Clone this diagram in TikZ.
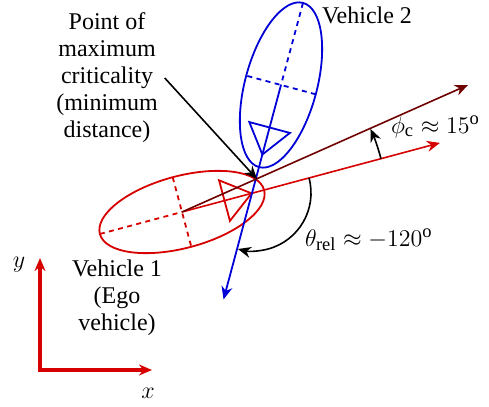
\documentclass[tikz,border=0pt]{standalone}
\usepackage{amsmath,amssymb}
\usepackage{fontspec}
\setmainfont{Liberation Serif}
\usetikzlibrary{arrows.meta}
\definecolor{egored}{RGB}{215,0,0}
\definecolor{vehblue}{RGB}{0,0,215}
\definecolor{critred}{RGB}{110,0,0}

\begin{document}
\begin{tikzpicture}[x=0.5pt,y=0.5pt,>={Stealth[length=6.5pt,width=5.5pt]},
  font=\fontsize{12}{13.5}\selectfont,
  body/.style={line width=0.9pt},
  axis/.style={dash pattern=on 2.5pt off 2.2pt,line width=0.9pt},
  anglabel/.style={anchor=west,font=\fontsize{13.2}{15}\selectfont}]
  \useasboundingbox (0,0) rectangle (489,407);
  \coordinate (E) at (182,195);
  \coordinate (V) at (281,322);
  \coordinate (P) at (257,228);
  \coordinate (I) at (253,214);
  \coordinate (Ctip) at (468,322);
  % vehicle 1 (ego)
  \begin{scope}[shift={(E)},rotate=15,egored]
    \draw[body] (0,0) ellipse (85 and 36);
    \draw[axis] (-85,0) -- (0,0) (0,36) -- (0,-36);
    \draw[body] (72,0) -- (44,21) -- (44,-21) -- cycle;
    \coordinate (Etip) at (267,0);
  \end{scope}
  \draw[->,egored,line width=0.8pt] (E) -- (Etip);
  % vehicle 2
  \begin{scope}[shift={(V)},rotate=-105,vehblue]
    \draw[body] (0,0) ellipse (85 and 36);
    \draw[axis] (-85,0) -- (0,0) (0,36) -- (0,-36);
    \draw[body] (72,0) -- (44,21) -- (44,-21) -- cycle;
    \coordinate (Vtip) at (222,0);
  \end{scope}
  \draw[->,vehblue,line width=0.9pt] (V) -- (Vtip);
  \draw[->,critred,line width=0.8pt] (E) -- (Ctip);
  % angles
  \draw[->,line width=0.8pt] (E) ++(15:206) arc[start angle=15,end angle=23.8,radius=206];
  \draw[->,line width=0.8pt] (I) ++(15:58) arc[start angle=15,end angle=-105,radius=58];
  \node[anglabel] (phi) at (384,280) {$\phi_{\mathrm{c}}\approx 15^{\mathrm{o}}$};
  \node[anglabel] (theta) at (298,167) {$\theta_{\mathrm{rel}}\approx -120^{\mathrm{o}}$};
  % labels
  \node[align=center] (crit) at (107,329) {Point of\\maximum\\criticality\\(minimum\\distance)};
  \draw[->,line width=0.8pt] (crit.east) -- (P);
  \node (v2) at (367,392) {Vehicle 2};
  \node[align=center] (v1) at (117,109) {Vehicle 1\\(Ego\\vehicle)};
  % frame
  \coordinate (O) at (40,37);
  \coordinate (ytip) at (40,149);
  \coordinate (xtip) at (152,37);
  \draw[<->,egored,line width=1.6pt] (ytip) -- (O) -- (xtip);
  \node[font=\fontsize{13.2}{15}\selectfont] (ylab) at (19,142) {$y$};
  \node[font=\fontsize{13.2}{15}\selectfont] (xlab) at (148,14) {$x$};
\end{tikzpicture}
\end{document}
